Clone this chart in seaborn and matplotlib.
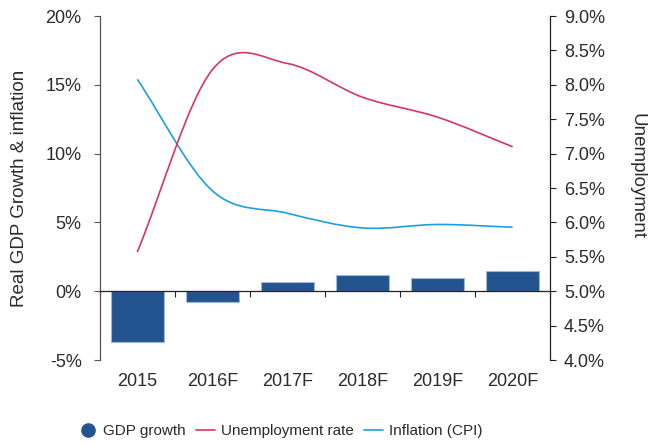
import matplotlib
matplotlib.use("Agg")
import matplotlib.pyplot as plt
from matplotlib.path import Path
from matplotlib.patches import PathPatch
from matplotlib.lines import Line2D
from matplotlib.ticker import FuncFormatter
import seaborn as sns
import pandas as pd

# chart data
years = ["2015", "2016F", "2017F", "2018F", "2019F", "2020F"]
gdp_growth = [-3.7, -0.8, 0.65, 1.15, 0.95, 1.45]
inflation = [15.4, 7.3, 5.67, 4.6, 4.85, 4.65]
unemployment = [5.57, 8.22, 8.31, 7.82, 7.53, 7.1]

bar_color = "#23548f"
red = "#d8365c"
blue = "#1c9fdf"
text_color = "#2b2b2b"

sns.set_theme(style="white")
plt.rcParams["font.family"] = ["Liberation Sans", "DejaVu Sans"]


def smooth_path(ys):
    # excel-style smoothed line: cubic bezier through each point
    n = len(ys)
    pts = [(i, y) for i, y in enumerate(ys)]
    tang = []
    for i in range(n):
        a = pts[max(i - 1, 0)]
        b = pts[min(i + 1, n - 1)]
        k = 2 if 0 < i < n - 1 else 1
        tang.append(((b[0] - a[0]) / k, (b[1] - a[1]) / k))
    verts = [pts[0]]
    codes = [Path.MOVETO]
    for i in range(n - 1):
        p0, p1 = pts[i], pts[i + 1]
        c1 = (p0[0] + tang[i][0] / 3, p0[1] + tang[i][1] / 3)
        c2 = (p1[0] - tang[i + 1][0] / 3, p1[1] - tang[i + 1][1] / 3)
        verts += [c1, c2, p1]
        codes += [Path.CURVE4] * 3
    return Path(verts, codes)


df = pd.DataFrame({"year": years, "gdp": gdp_growth})

fig = plt.figure(figsize=(6.48, 4.45), dpi=100)
ax = fig.add_axes([0.154, 0.191, 0.695, 0.773])

sns.barplot(data=df, x="year", y="gdp", color=bar_color, saturation=1,
            width=0.7, edgecolor="#9db8dc", linewidth=0.8, ax=ax, zorder=2)

ax.add_patch(PathPatch(smooth_path(inflation), facecolor="none",
                       edgecolor=blue, lw=1.2, zorder=3))
ax.set_ylim(-5, 20)
ax.set_xlim(-0.5, 5.5)
ax.set_yticks([-5, 0, 5, 10, 15, 20])
ax.yaxis.set_major_formatter(FuncFormatter(lambda v, p: "%d%%" % v))

# zero line with category boundary ticks
ax.spines["bottom"].set_position(("data", 0))
ax.spines["bottom"].set_zorder(4)
ax.set_xticks([x - 0.5 for x in range(7)])
ax.set_xticklabels([])
ax.tick_params(axis="x", bottom=True, direction="out", length=4,
               width=0.8, color="#222222")
ax.tick_params(axis="y", left=True, direction="out", length=4,
               width=0.8, color="#555555", labelsize=13,
               labelcolor=text_color, pad=9)
ax.spines["top"].set_visible(False)
ax.spines["right"].set_visible(False)
ax.spines["left"].set_color("#555555")
ax.spines["bottom"].set_color("#222222")
ax.spines["left"].set_linewidth(0.9)
ax.spines["bottom"].set_linewidth(0.9)
ax.set_xlabel("")
ax.set_ylabel("Real GDP Growth & inflation", fontsize=13.5,
              color=text_color, labelpad=13)

sec = ax.secondary_xaxis(0.0)
sec.set_xticks(range(len(years)))
sec.set_xticklabels(years)
sec.tick_params(length=0, labelsize=13, labelcolor=text_color, pad=9)
sec.spines["bottom"].set_visible(False)

ax2 = ax.twinx()
ax2.add_patch(PathPatch(smooth_path(unemployment), facecolor="none",
                        edgecolor=red, lw=1.2, zorder=3))
ax2.set_ylim(4.0, 9.0)
ax2.set_yticks([4.0, 4.5, 5.0, 5.5, 6.0, 6.5, 7.0, 7.5, 8.0, 8.5, 9.0])
ax2.yaxis.set_major_formatter(FuncFormatter(lambda v, p: "%.1f%%" % v))
ax2.tick_params(axis="y", right=True, direction="out", length=4,
                width=0.8, color="#222222", labelsize=13,
                labelcolor=text_color, pad=6)
for s in ["top", "left", "bottom"]:
    ax2.spines[s].set_visible(False)
ax2.spines["right"].set_color("#222222")
ax2.spines["right"].set_linewidth(0.9)
ax2.set_ylabel("Unemployment", fontsize=13.5, color=text_color,
               rotation=270)
ax2.yaxis.set_label_coords(1.212, 0.535)
ax2.grid(False)

handles = [
    Line2D([], [], marker="o", ls="none", color=bar_color, markersize=9.5),
    Line2D([], [], color=red, lw=1.2),
    Line2D([], [], color=blue, lw=1.2),
]
labels = ["GDP growth", "Unemployment rate", "Inflation (CPI)"]
fig.legend(handles, labels, loc="center left",
           bbox_to_anchor=(0.1, 0.031), ncol=3, frameon=False,
           fontsize=11, handlelength=1.2, handletextpad=0.4,
           columnspacing=0.7, labelcolor=text_color)

plt.savefig("out.png", dpi=100)
